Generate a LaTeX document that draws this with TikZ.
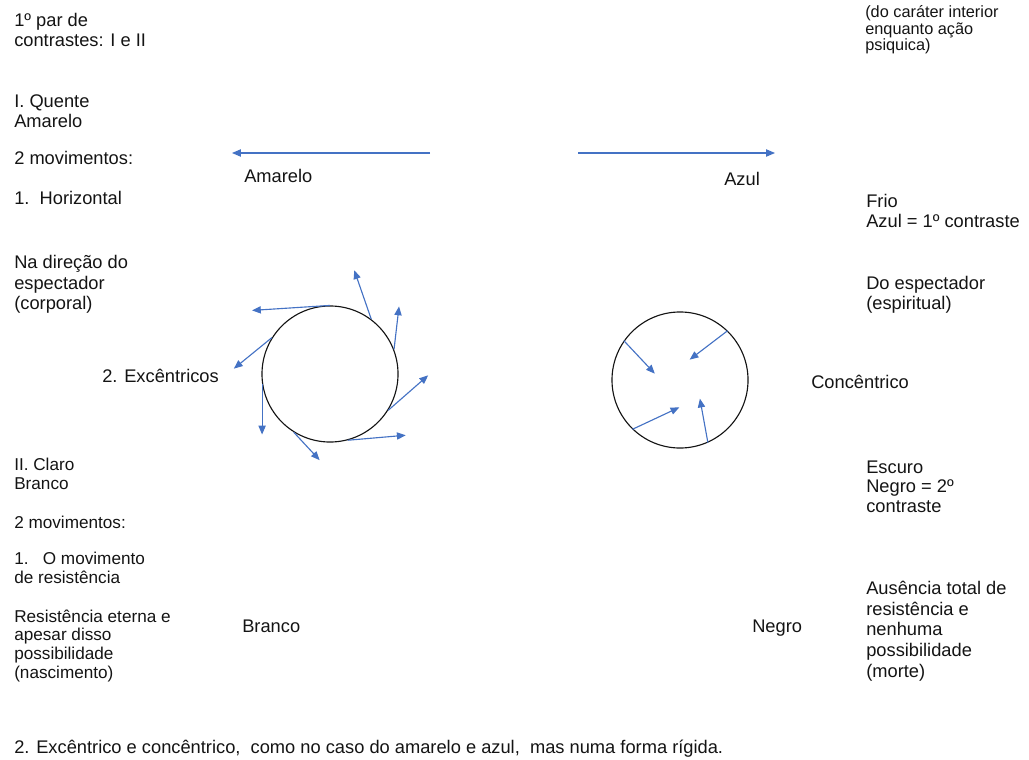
\documentclass[tikz,border=0pt]{standalone}
\usepackage{fontspec}
\setmainfont{Liberation Sans}
\usetikzlibrary{arrows.meta,positioning}
\definecolor{ray}{RGB}{68,114,196}
\definecolor{ink}{RGB}{20,20,20}
\tikzset{
  >={Triangle[length=2.2mm,width=1.8mm]},
  txt/.style={font=\fontsize{13}{14.6}\selectfont,text=ink,align=left,inner sep=0pt,anchor=base west},
  txt close/.style={txt,font=\fontsize{13}{13.7}\selectfont},
  txt tight/.style={txt,font=\fontsize{12.2}{13.2}\selectfont},
  txt tiny/.style={txt,font=\fontsize{11.6}{9.6}\selectfont},
  arrow/.style={->,draw=ray,line width=0.8pt},
  disc/.style={circle,draw=ink,line width=0.8pt,minimum size=#1,inner sep=0pt},
  disc/.default=3.4cm,
}

\begin{document}
\begin{tikzpicture}[x=0.025cm,y=-0.025cm]
  \useasboundingbox (0,0) rectangle (1029,760);
  % left column (nodes sit on the baseline of their last line)
  \node[txt] (par) at (14,47) {1º par de\\contrastes:  I e II};
  \node[txt] (quente) at (14,128) {I.  Quente\\Amarelo};
  \node[txt] (mov1) at (14,165) {2 movimentos:};
  \node[txt] (horiz) at (14,205) {1.\ \ Horizontal};
  \node[txt] (direcao) at (14,310) {Na direção do\\espectador\\(corporal)};
  \node[txt] (exc) at (102,382) {2. Excêntricos};
  \node[txt tight] (claro) at (14,489) {II.  Claro\\Branco};
  \node[txt tight] (mov2) at (14,528) {2 movimentos:};
  \node[txt tight] (resist) at (14,583) {1.\ \ \ O movimento\\de resistência};
  \node[txt tight] (eterna) at (14,678) {Resistência eterna e\\apesar disso\\possibilidade\\(nascimento)};
  \node[txt] (nota) at (14,753) {2. Excêntrico e concêntrico,\ \ como no caso do amarelo e azul,\ \ mas numa forma rígida.};
  % labels in the middle
  \node[txt] (amarelo) at (244,183) {Amarelo};
  \node[txt] (azul) at (724,186) {Azul};
  \node[txt] (branco) at (242,632) {Branco};
  \node[txt] (negro) at (752,632) {Negro};
  \node[txt] (conc) at (811,388) {Concêntrico};
  % right column
  \node[txt tiny] (carater) at (865,51) {(do caráter interior\\enquanto ação\\psiquica)};
  \node[txt] (frio) at (866,228) {Frio\\Azul = 1º contraste};
  \node[txt] (espiritual) at (866,310) {Do espectador\\(espiritual)};
  \node[txt close] (escuro) at (866,512) {Escuro\\Negro = 2º\\contraste};
  \node[txt] (ausencia) at (866,677) {Ausência total de\\resistência e\\nenhuma\\possibilidade\\(morte)};

  % horizontal movement
  \coordinate (ya) at (430,153);
  \coordinate (yb) at (232,153);
  \coordinate (ba) at (578,153);
  \coordinate (bb) at (775,153);
  \draw[arrow] (ya) -- (yb);
  \draw[arrow] (ba) -- (bb);

  % excentric and concentric
  \node[disc] (cexc) at (330,374) {};
  \node[disc] (cconc) at (680,380) {};
  \foreach \a/\dx/\dy in {90/-78/5, 53/-17/-49, 21/5/-43, -32/40/-35,
      -75/58/-5, -122/26/28, -172/0/51, 148/-38/31}
    \draw[arrow] (cexc.\a) -- ++(\dx,\dy);
  \foreach \a/\dx/\dy in {145/31/33, 46/-38/29, -134/47/-22, -66/-8/-44}
    \draw[arrow] (cconc.\a) -- ++(\dx,\dy);
\end{tikzpicture}
\end{document}
